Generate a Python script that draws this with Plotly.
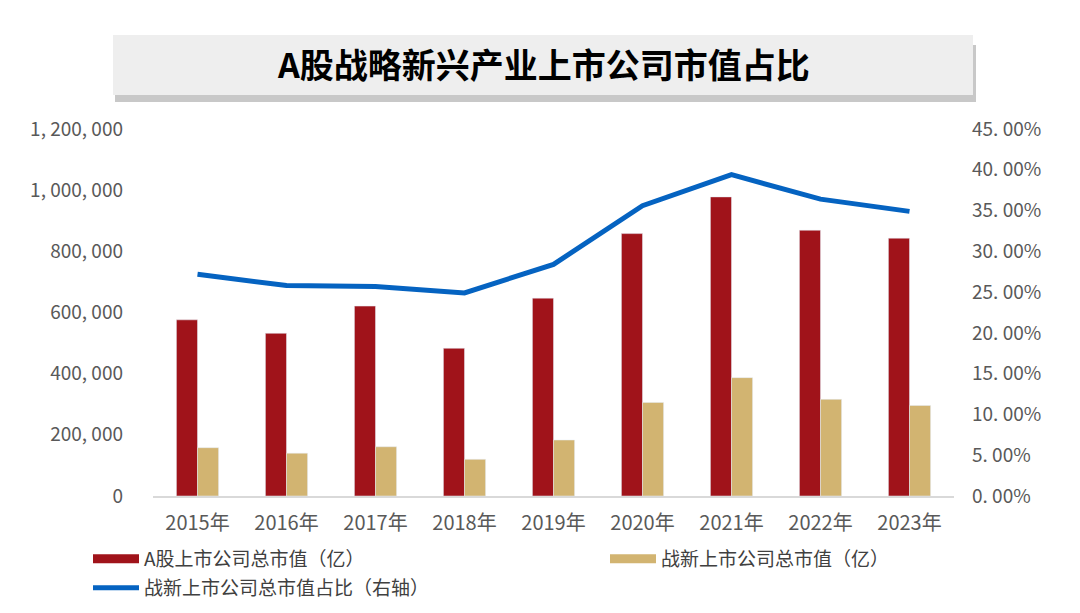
import plotly.graph_objects as go

years = ["2015年", "2016年", "2017年", "2018年", "2019年", "2020年", "2021年", "2022年", "2023年"]
a_share_cap = [576000, 532000, 621000, 483000, 647000, 858000, 978000, 869000, 843000]
sei_cap = [158000, 140000, 161000, 120000, 183000, 306000, 387000, 316000, 296000]
sei_ratio = [27.2, 25.8, 25.7, 24.9, 28.4, 35.6, 39.4, 36.4, 34.9]

left_tickvals = [0, 200000, 400000, 600000, 800000, 1000000, 1200000]
left_ticktext = ["0", "200, 000", "400, 000", "600, 000", "800, 000", "1, 000, 000", "1, 200, 000"]
right_tickvals = [0, 5, 10, 15, 20, 25, 30, 35, 40, 45]
right_ticktext = ["0. 00%", "5. 00%", "10. 00%", "15. 00%", "20. 00%", "25. 00%", "30. 00%", "35. 00%", "40. 00%", "45. 00%"]

title_text = "A股战略新兴产业上市公司市值占比"
name_a = "A股上市公司总市值（亿）"
name_s = "战新上市公司总市值（亿）"
name_r = "战新上市公司总市值占比（右轴）"

RED = "#A0131A"
GOLD = "#D2B471"
BLUE = "#0563C1"
FONT = "Noto Sans CJK SC"

fig = go.Figure()
fig.add_trace(go.Bar(x=years, y=a_share_cap, name=name_a, marker_color=RED,
                     showlegend=False, legendgroup="a"))
fig.add_trace(go.Bar(x=years, y=sei_cap, name=name_s, marker_color=GOLD,
                     showlegend=False, legendgroup="s"))
fig.add_trace(go.Scatter(x=years, y=sei_ratio, name=name_r, yaxis="y2", mode="lines",
                         line=dict(color=BLUE, width=5), showlegend=False, legendgroup="r"))

# legend-only entries (wide swatches), one legend each for exact placement
fig.add_trace(go.Scatter(x=[None], y=[None], mode="lines", name=name_a, legendgroup="a",
                         line=dict(color=RED, width=9), legend="legend"))
fig.add_trace(go.Scatter(x=[None], y=[None], mode="lines", name=name_s, legendgroup="s",
                         line=dict(color=GOLD, width=9), legend="legend2"))
fig.add_trace(go.Scatter(x=[None], y=[None], mode="lines", name=name_r, legendgroup="r",
                         line=dict(color=BLUE, width=5), legend="legend3"))

legend_common = dict(xref="container", yref="container", xanchor="left", yanchor="middle",
                     font=dict(size=19, color="#404040", family=FONT),
                     bgcolor="rgba(0,0,0,0)", borderwidth=0, itemwidth=46)

fig.update_layout(
    width=1080, height=613,
    paper_bgcolor="white", plot_bgcolor="white",
    margin=dict(l=145, r=134, t=121, b=125, autoexpand=False),
    barmode="group", bargap=0.526, bargroupgap=0,
    font=dict(family=FONT, color="#595959", size=19),
    xaxis=dict(showgrid=False, showline=True, linecolor="#D9D9D9", linewidth=2,
               ticks="", tickfont=dict(size=20, color="#595959"), fixedrange=True,
               ticklabelstandoff=8),
    yaxis=dict(range=[0, 1200000], tickvals=left_tickvals, ticktext=left_ticktext,
               showgrid=False, zeroline=False, showline=False, ticks="",
               tickfont=dict(size=19, color="#595959"), ticklabelstandoff=29),
    yaxis2=dict(range=[0, 45], tickvals=right_tickvals, ticktext=right_ticktext,
                overlaying="y", side="right", showgrid=False, zeroline=False,
                showline=False, ticks="", tickfont=dict(size=19, color="#595959"),
                ticklabelstandoff=17),
    legend=dict(x=80 / 1080, y=1 - 551 / 613, **legend_common),
    legend2=dict(x=597 / 1080, y=1 - 551 / 613, **legend_common),
    legend3=dict(x=80 / 1080, y=1 - 580 / 613, **legend_common),
    shapes=[
        dict(type="rect", xref="paper", yref="paper", xsizemode="pixel", ysizemode="pixel",
             xanchor=0, yanchor=1, x0=-38, x1=823, y0=27, y1=84,
             fillcolor="#C8C8C8", line=dict(width=0), layer="below"),
        dict(type="rect", xref="paper", yref="paper", xsizemode="pixel", ysizemode="pixel",
             xanchor=0, yanchor=1, x0=-40, x1=820, y0=34, y1=94,
             fillcolor="#EEEEEE", line=dict(width=0), layer="below"),
    ],
    annotations=[
        dict(text="<b>" + title_text + "</b>", xref="paper", yref="paper",
             x=0.0, y=1.0, xshift=390, yshift=66, showarrow=False,
             font=dict(size=34, color="#000000", family=FONT),
             xanchor="center", yanchor="middle"),
    ],
)

fig.write_html("out.html")
